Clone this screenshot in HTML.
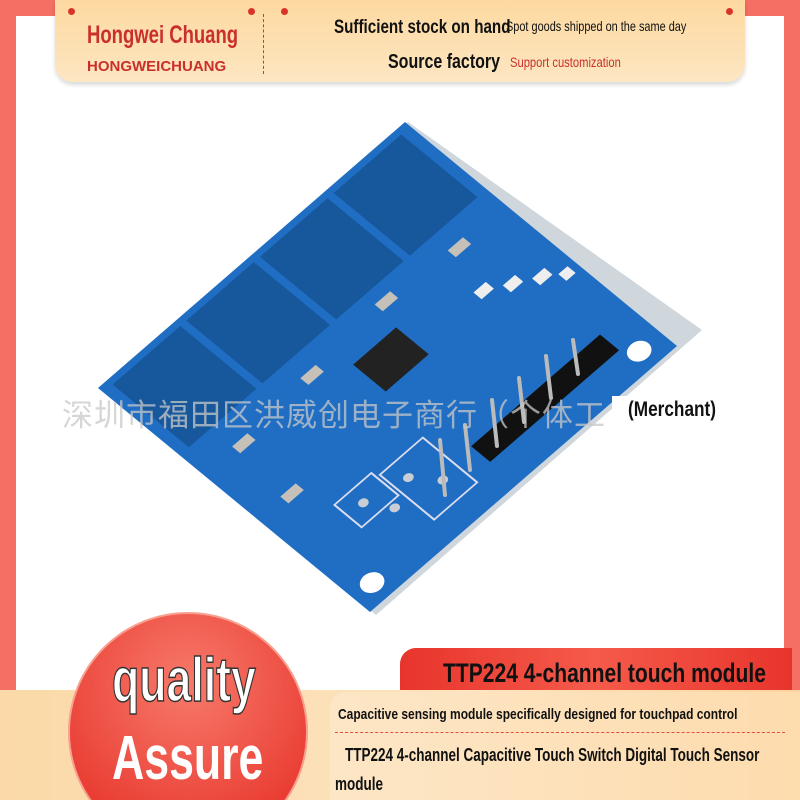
<!DOCTYPE html>
<html><head><meta charset="utf-8"><style>
*{margin:0;padding:0;box-sizing:border-box}
html,body{width:800px;height:800px;overflow:hidden}
body{position:relative;background:#f46f64;font-family:"Liberation Sans","Noto Sans CJK SC",sans-serif}
.abs{position:absolute}
.n{display:inline-block;transform-origin:0 0;white-space:nowrap;font-weight:bold}
#wrap{position:absolute;left:0;top:0;width:800px;height:800px;overflow:hidden}
</style></head><body><div id="wrap">
<div class="abs" style="left:16px;top:16px;width:768px;height:680px;background:#fff"></div>
<div class="abs" style="left:55px;top:0;width:690px;height:82px;background:linear-gradient(#fdd9a0,#fde6c2);border-radius:0 0 18px 18px;box-shadow:0 3px 4px rgba(0,0,0,.15)"></div>
<div class="abs" style="left:68px;top:8px;width:7px;height:7px;border-radius:50%;background:#d9342b"></div>
<div class="abs" style="left:248px;top:8px;width:7px;height:7px;border-radius:50%;background:#d9342b"></div>
<div class="abs" style="left:281px;top:8px;width:7px;height:7px;border-radius:50%;background:#d9342b"></div>
<div class="abs" style="left:726px;top:8px;width:7px;height:7px;border-radius:50%;background:#d9342b"></div>
<div class="abs" style="left:263px;top:14px;height:60px;border-left:1.5px dashed #d9342b"></div>
<div class="abs" style="left:87px;top:21px;color:#c9302c;font-size:25px"><span class="n" style="transform:scaleX(.74)">Hongwei Chuang</span></div>
<div class="abs" style="left:87px;top:58px;color:#c9302c;font-size:15px"><span class="n">HONGWEICHUANG</span></div>
<div class="abs" style="left:334px;top:17px;font-size:19px;color:#111"><span class="n" style="transform:scaleX(.8)">Sufficient stock on hand</span></div>
<div class="abs" style="left:506px;top:18px;font-size:14px;color:#111"><span class="n" style="font-weight:normal;transform:scaleX(.78)">Spot goods shipped on the same day</span></div>
<div class="abs" style="left:388px;top:51px;font-size:20px;color:#111"><span class="n" style="transform:scaleX(.8)">Source factory</span></div>
<div class="abs" style="left:510px;top:54px;font-size:14px;color:#c9302c"><span class="n" style="font-weight:normal;transform:scaleX(.8)">Support customization</span></div>

<svg class="abs" style="left:0;top:0" width="800" height="800">
<polygon points="100,388 408,122 702,330 376,615" fill="#cfd6dc"/>
<g transform="matrix(3.07,-2.66,2.72,2.24,98,388)">
<rect x="0" y="0" width="100" height="100" fill="#1f6ec4"/>
<rect x="3" y="2" width="22" height="28" fill="#17579c"/>
<rect x="27" y="2" width="22" height="28" fill="#17579c"/>
<rect x="51" y="2" width="22" height="28" fill="#17579c"/>
<rect x="75" y="2" width="22" height="28" fill="#17579c"/>
<rect x="45" y="43" width="14" height="12" fill="#222"/>
<rect x="15" y="70" width="12" height="10" fill="none" stroke="#dde" stroke-width=".5"/>
<rect x="28" y="72" width="14" height="20" fill="none" stroke="#dde" stroke-width=".5"/>
<g fill="#c8ced3"><circle cx="20" cy="75" r="1.3"/><circle cx="32" cy="78" r="1.3"/><circle cx="37" cy="85" r="1.3"/><circle cx="24" cy="82" r="1.3"/></g>
<g fill="#c5c0b8"><rect x="10" y="38" width="5" height="3"/><rect x="34" y="36" width="5" height="3"/><rect x="60" y="34" width="5" height="3"/><rect x="82" y="36" width="5" height="3"/><rect x="8" y="58" width="5" height="3"/></g>
<g fill="#eee"><rect x="78" y="50" width="4" height="3"/><rect x="84" y="54" width="4" height="3"/><rect x="90" y="58" width="4" height="3"/><rect x="95" y="62" width="3" height="3"/></g>
<rect x="48" y="83" width="42" height="7" fill="#111"/>
<circle cx="93" cy="94" r="3" fill="#fff"/><circle cx="6" cy="94" r="3" fill="#fff"/>
</g>
<g stroke="#bbb" stroke-width="4" stroke-linecap="round">
<line x1="445" y1="495" x2="440" y2="440"/><line x1="470" y1="470" x2="465" y2="425"/><line x1="497" y1="446" x2="492" y2="400"/><line x1="524" y1="422" x2="519" y2="378"/><line x1="551" y1="398" x2="546" y2="356"/><line x1="578" y1="374" x2="573" y2="340"/>
</g>
</svg>
<div class="abs" style="left:62px;top:390px;font-size:31px;color:rgba(200,200,200,.75);white-space:nowrap;letter-spacing:1px">深圳市福田区洪威创电子商行（个体工</div>
<div class="abs" style="left:612px;top:396px;width:130px;height:32px;background:#fff"></div>
<div class="abs" style="left:628px;top:398px;font-size:21px;color:#111"><span class="n" style="transform:scaleX(.82)">(Merchant)</span></div>

<div class="abs" style="left:400px;top:648px;width:392px;height:50px;background:linear-gradient(90deg,#e8342c,#f55a4a,#e8342c);border-radius:16px 0 0 0"></div>
<div class="abs" style="left:0;top:690px;width:800px;height:110px;background:linear-gradient(90deg,#fbd9a8,#fde3c0 60%,#fbd39c)"></div>
<div class="abs" style="left:330px;top:692px;width:470px;height:108px;background:linear-gradient(90deg,#fde6c6,#fddcae);border-radius:16px 0 0 0"></div>
<svg class="abs" style="left:0;top:0" width="800" height="800">
<defs><radialGradient id="rg" cx="50%" cy="30%" r="70%"><stop offset="0" stop-color="#f77a6a"/><stop offset="1" stop-color="#e8352c"/></radialGradient></defs>
<circle cx="188" cy="732" r="119" fill="url(#rg)" stroke="#f8a090" stroke-width="2"/>
</svg>
<div class="abs" style="left:112px;top:650px;font-size:62px;line-height:1;color:#fff;-webkit-text-stroke:1.5px #333"><span class="n" style="transform:scaleX(.72)">quality</span></div>
<div class="abs" style="left:112px;top:728px;font-size:62px;line-height:1;color:#fff"><span class="n" style="transform:scaleX(.72)">Assure</span></div>
<div class="abs" style="left:443px;top:658px;font-size:27px;color:#111"><span class="n" style="transform:scaleX(.78)">TTP224 4-channel touch module</span></div>
<div class="abs" style="left:338px;top:706px;font-size:15px;color:#111"><span class="n" style="transform:scaleX(.8)">Capacitive sensing module specifically designed for touchpad control</span></div>
<div class="abs" style="left:335px;top:732px;width:450px;border-top:1.5px dashed #e05040"></div>
<div class="abs" style="left:345px;top:746px;font-size:18px;line-height:1;color:#111"><span class="n" style="transform:scaleX(.75)">TTP224 4-channel Capacitive Touch Switch Digital Touch Sensor</span></div>
<div class="abs" style="left:335px;top:775px;font-size:18px;line-height:1;color:#111"><span class="n" style="transform:scaleX(.75)">module</span></div>
</div></body></html>
